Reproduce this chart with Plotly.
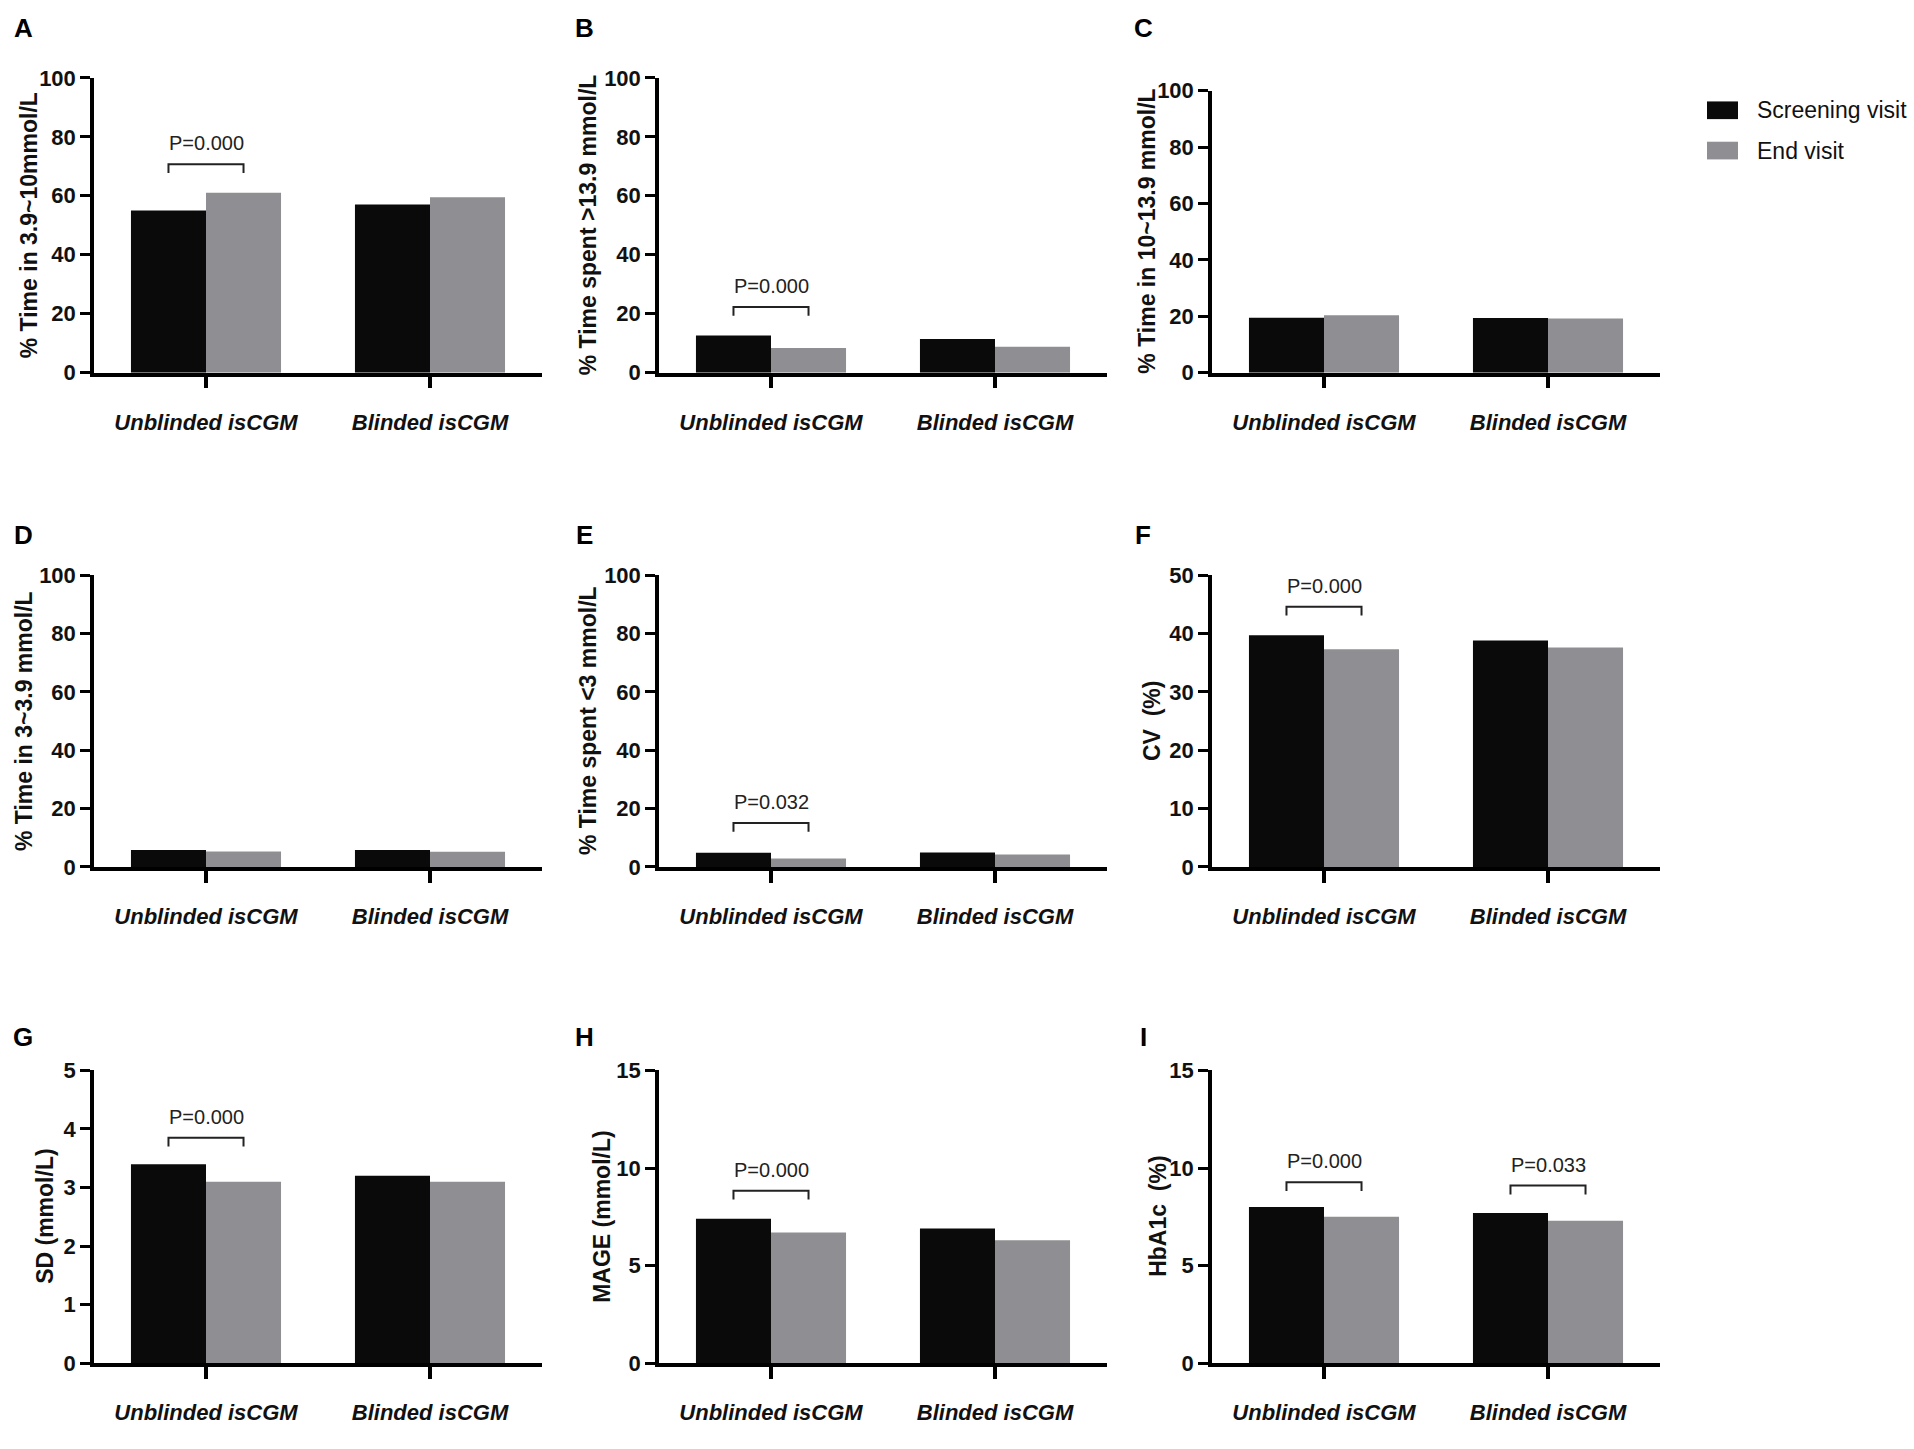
import plotly.graph_objects as go

W, H = 1914, 1449
FONT = 'Liberation Sans, Arial, sans-serif'

categories = ['Unblinded isCGM', 'Blinded isCGM']
panel_letters = ['A', 'B', 'C', 'D', 'E', 'F', 'G', 'H', 'I']
y_titles = ['% Time in 3.9~10mmol/L', '% Time spent &gt;13.9 mmol/L', '% Time in 10~13.9 mmol/L',
            '% Time in 3~3.9 mmol/L', '% Time spent &lt;3 mmol/L', 'CV  (%)',
            'SD (mmol/L)', 'MAGE (mmol/L)', 'HbA1c  (%)']
y_max = [100, 100, 100, 100, 100, 50, 5, 15, 15]
y_step = [20, 20, 20, 20, 20, 10, 1, 5, 5]

screening = [55.0, 12.6, 19.5, 5.8, 4.9, 39.7, 3.4, 7.4, 8.0]
end_visit = [61.0, 8.4, 20.4, 5.3, 2.9, 37.3, 3.1, 6.7, 7.5]
screening_blinded = [57.0, 11.4, 19.4, 5.8, 5.0, 38.8, 3.2, 6.9, 7.7]
end_blinded = [59.5, 8.8, 19.2, 5.2, 4.3, 37.6, 3.1, 6.3, 7.3]

# significance brackets: (panel, category index, bracket height, label)
sig_panel = [0, 1, 4, 5, 6, 7, 8, 8]
sig_cat = [0, 0, 0, 0, 0, 0, 0, 1]
sig_level = [70.7, 22.3, 15.1, 44.6, 3.85, 8.84, 9.27, 9.1]
sig_text = ['P=0.000', 'P=0.000', 'P=0.032', 'P=0.000', 'P=0.000', 'P=0.000', 'P=0.000', 'P=0.033']

legend_names = ['Screening visit', 'End visit']
colors = ['#0a0a0a', '#8f8f93']

# layout in pixels
col_left = [94, 659, 1212]
col_width = 448
row_top = [67, 573, 1077]
row_bottom = [367, 870, 1375]
title_x = [[29, 588, 1147], [24, 588, 1152], [45, 602, 1158]]
letter_x = [23, 584, 1143]
letter_y = [16, 532, 1043]
bargap = 0.33

fig = go.Figure()
layout = dict(width=W, height=H, margin=dict(l=0, r=0, t=0, b=0),
              paper_bgcolor='white', plot_bgcolor='white', showlegend=False,
              barmode='group', bargap=bargap, bargroupgap=0,
              font=dict(family=FONT, color='#111111'))
annotations = []
shapes = []

for i in range(9):
    r, c = divmod(i, 3)
    n = '' if i == 0 else str(i + 1)
    top = row_top[r] + (13 if i == 2 else 0)
    x0 = col_left[c]
    fig.add_trace(go.Bar(x=[0, 1], y=[screening[i], screening_blinded[i]], name=legend_names[0],
                         marker=dict(color=colors[0], line=dict(width=0)),
                         xaxis='x' + n, yaxis='y' + n))
    fig.add_trace(go.Bar(x=[0, 1], y=[end_visit[i], end_blinded[i]], name=legend_names[1],
                         marker=dict(color=colors[1], line=dict(width=0)),
                         xaxis='x' + n, yaxis='y' + n))
    layout['xaxis' + n] = dict(domain=[x0 / W, (x0 + col_width) / W], anchor='y' + n,
                               range=[-0.5, 1.5], tickvals=[0, 1], ticktext=categories,
                               showline=True, linecolor='black', linewidth=3.5,
                               ticks='outside', ticklen=12, tickwidth=3.5, tickcolor='black',
                               ticklabelstandoff=15, showgrid=False, zeroline=False,
                               tickfont=dict(size=22, weight='bold', style='italic', color='#111111'))
    tv = [k * y_step[i] for k in range(int(round(y_max[i] / y_step[i])) + 1)]
    layout['yaxis' + n] = dict(domain=[1 - row_bottom[r] / H, 1 - top / H], anchor='x' + n,
                               range=[0, y_max[i]], tickvals=tv,
                               showline=True, linecolor='black', linewidth=3.5,
                               ticks='outside', ticklen=10, tickwidth=3, tickcolor='black',
                               showgrid=False, zeroline=False,
                               tickfont=dict(size=22, weight='bold', color='#111111'))
    annotations.append(dict(text=y_titles[i], textangle=-90, xref='paper', yref='paper',
                            x=title_x[r][c] / W, y=1 - (top + row_bottom[r]) / 2 / H,
                            xanchor='center', yanchor='middle', showarrow=False,
                            font=dict(size=23, weight='bold', color='#111111')))
    annotations.append(dict(text=panel_letters[i], xref='paper', yref='paper',
                            x=letter_x[c] / W, y=1 - letter_y[r] / H,
                            xanchor='center', yanchor='middle', showarrow=False,
                            font=dict(size=26, weight='bold', color='black')))

half = (1 - bargap) / 4
for k in range(len(sig_panel)):
    i = sig_panel[k]
    n = '' if i == 0 else str(i + 1)
    cx = sig_cat[k]
    lvl = sig_level[k]
    drop = y_max[i] * 0.03
    shapes.append(dict(type='path', xref='x' + n, yref='y' + n,
                       path=f'M {cx - half},{lvl - drop} L {cx - half},{lvl} L {cx + half},{lvl} L {cx + half},{lvl - drop}',
                       line=dict(color='#222222', width=2)))
    annotations.append(dict(text=sig_text[k], xref='x' + n, yref='y' + n, x=cx, y=lvl,
                            yshift=21, xanchor='center', yanchor='middle', showarrow=False,
                            font=dict(size=20, color='#222222')))

# legend drawn by hand so the swatches match the original size
legend_y = [100, 141]
for k in range(2):
    shapes.append(dict(type='rect', xref='paper', yref='paper',
                       x0=1707 / W, x1=1738 / W,
                       y0=1 - (legend_y[k] + 9) / H, y1=1 - (legend_y[k] - 9) / H,
                       fillcolor=colors[k], line=dict(width=0)))
    annotations.append(dict(text=legend_names[k], xref='paper', yref='paper',
                            x=1755 / W, y=1 - legend_y[k] / H, xanchor='left', yanchor='middle',
                            showarrow=False, font=dict(size=23, color='#111111')))

layout['annotations'] = annotations
layout['shapes'] = shapes
fig.update_layout(**layout)
# drop the browser's default body margin so the figure sits flush with the window
fig.write_html('out.html', config={'displayModeBar': False},
               post_script="document.body.style.margin='0';")
